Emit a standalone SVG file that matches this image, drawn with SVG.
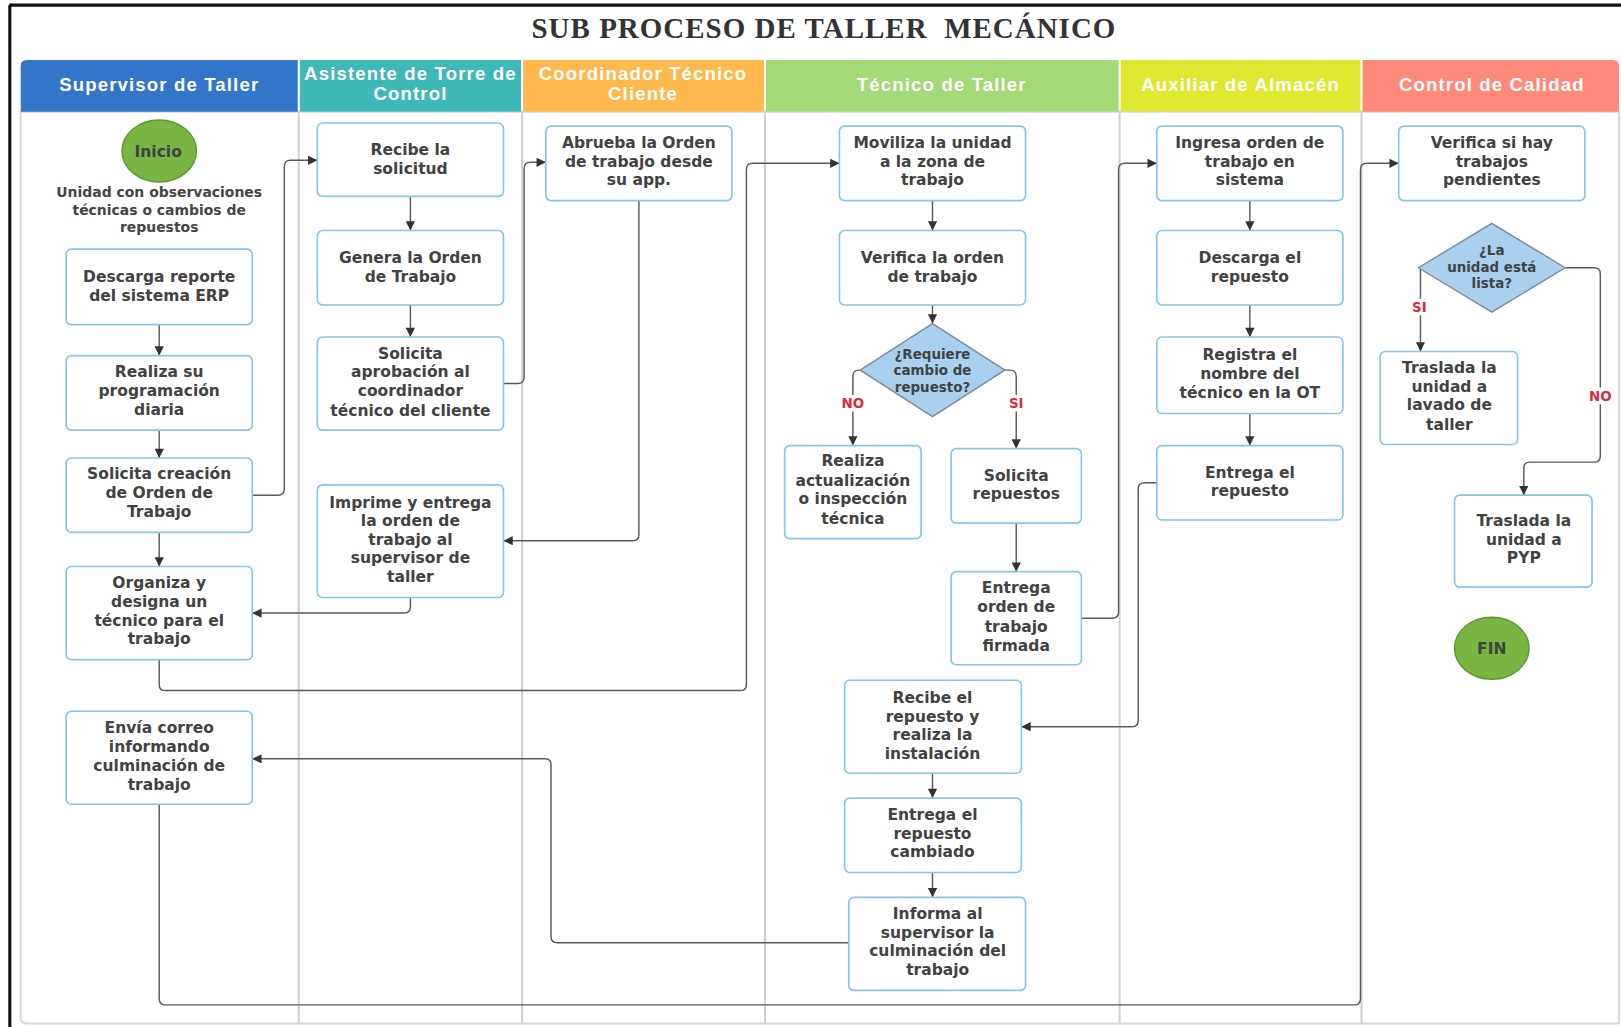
<svg xmlns="http://www.w3.org/2000/svg" width="1621" height="1027" viewBox="0 0 1621 1027">
  <style>
    .box{fill:#ffffff;stroke:#86c5e8;stroke-width:1.6}
    .t{font-family:"DejaVu Sans",Verdana,sans-serif;font-weight:bold;font-size:15px;fill:#424242;text-anchor:middle}
    .dt{font-family:"DejaVu Sans",Verdana,sans-serif;font-weight:bold;font-size:13px;fill:#424242;text-anchor:middle}
    .hd{font-family:"Liberation Sans",Arial,sans-serif;font-weight:bold;font-size:18px;letter-spacing:1.1px;fill:#ffffff;text-anchor:middle}
    .cap{font-family:"DejaVu Sans",Verdana,sans-serif;font-weight:bold;font-size:13.5px;fill:#454545;text-anchor:middle}
    .lbl{font-family:"DejaVu Sans",Verdana,sans-serif;font-weight:bold;font-size:13px;fill:#dc2a3c;text-anchor:middle}
    .dia{fill:#a9d0ee;stroke:#7a8a99;stroke-width:1.4}
    .term{fill:#79b543;stroke:#5d9a32;stroke-width:1.4}
    .lane{stroke:#d0d0d0;stroke-width:2}
    .conn path{fill:none;stroke:#5a5a5a;stroke-width:1.4}
    .conn path.arr{marker-end:url(#ah)}
  </style>
  <defs>
    <marker id="ah" viewBox="0 0 10 10" refX="10" refY="5" markerWidth="11" markerHeight="9" markerUnits="userSpaceOnUse" orient="auto">
      <path d="M0,0 L10,5 L0,10 z" fill="#333"/>
    </marker>
  </defs>
  <rect width="1621" height="1027" fill="#ffffff"/>
  <g transform="scale(1.0338)">
    <!-- outer frame -->
    <line x1="9" y1="5" x2="1568" y2="5" stroke="#111" stroke-width="3"/>
    <line x1="9.5" y1="5" x2="9.5" y2="995" stroke="#111" stroke-width="3"/>

    <!-- title -->
    <text x="797" y="37" font-family="'Liberation Serif','Times New Roman',serif" font-size="28" font-weight="bold" letter-spacing="1" fill="#333" text-anchor="middle">SUB PROCESO DE TALLER&#160; MECÁNICO</text>

    <!-- pool body -->
    <path d="M20,108 H1566 V990 H26 Q20,990 20,984 Z" fill="#ffffff" stroke="#d8d8d8" stroke-width="2"/>
    <line class="lane" x1="289" y1="108" x2="289" y2="990"/>
    <line class="lane" x1="505" y1="108" x2="505" y2="990"/>
    <line class="lane" x1="740" y1="108" x2="740" y2="990"/>
    <line class="lane" x1="1083" y1="108" x2="1083" y2="990"/>
    <line class="lane" x1="1317" y1="108" x2="1317" y2="990"/>

    <!-- lane headers -->
    <g id="lane-supervisor">
      <path d="M20,108 V64 Q20,58 26,58 H288 V108 Z" fill="#3375c8"/>
      <text class="hd" x="154" y="88">Supervisor de Taller</text>
    </g>
    <g id="lane-asistente">
      <rect x="290" y="58" width="214" height="50" fill="#3fb8b8"/>
      <text class="hd" x="397" y="77">Asistente de Torre de</text>
      <text class="hd" x="397" y="97">Control</text>
    </g>
    <g id="lane-coordinador">
      <rect x="506" y="58" width="233" height="50" fill="#ffb84d"/>
      <text class="hd" x="622" y="77">Coordinador Técnico</text>
      <text class="hd" x="622" y="97">Cliente</text>
    </g>
    <g id="lane-tecnico">
      <rect x="741" y="58" width="341" height="50" fill="#a3d977"/>
      <text class="hd" x="911" y="88">Técnico de Taller</text>
    </g>
    <g id="lane-auxiliar">
      <rect x="1084" y="58" width="232" height="50" fill="#dfe830"/>
      <text class="hd" x="1200" y="88">Auxiliar de Almacén</text>
    </g>
    <g id="lane-calidad">
      <path d="M1318,58 H1560 Q1566,58 1566,64 V108 H1318 Z" fill="#ff8a7a"/>
      <text class="hd" x="1443" y="88">Control de Calidad</text>
    </g>

    <!-- connectors -->
    <g id="connectors" class="conn">
      <path class="arr" d="M154,314 V344"/>
      <path class="arr" d="M154,416 V443"/>
      <path class="arr" d="M154,515 V548"/>
      <path class="arr" d="M244,479 H269 Q275,479 275,473 V161 Q275,155 281,155 H307"/>
      <path class="arr" d="M397,190 V223"/>
      <path class="arr" d="M397,295 V326"/>
      <path class="arr" d="M487,371 H501 Q507,371 507,365 V163 Q507,157 513,157 H528"/>
      <path class="arr" d="M618,194 V517 Q618,523 612,523 H487"/>
      <path class="arr" d="M397,578 V587 Q397,593 391,593 H244"/>
      <path class="arr" d="M154,638 V662 Q154,668 160,668 H716 Q722,668 722,662 V164 Q722,158 728,158 H812"/>
      <path class="arr" d="M902,194 V223"/>
      <path class="arr" d="M902,295 V313"/>
      <path class="arr" d="M832,358 H831 Q825,358 825,364 V431"/>
      <path class="arr" d="M972,358 H977 Q983,358 983,364 V434"/>
      <path class="arr" d="M983,506 V553"/>
      <path class="arr" d="M1046,598 H1076 Q1082,598 1082,592 V164 Q1082,158 1088,158 H1119"/>
      <path class="arr" d="M1209,194 V223"/>
      <path class="arr" d="M1209,295 V326"/>
      <path class="arr" d="M1209,400 V431"/>
      <path class="arr" d="M1119,467 H1107 Q1101,467 1101,473 V697 Q1101,703 1095,703 H988"/>
      <path class="arr" d="M902,748 V772"/>
      <path class="arr" d="M902,844 V868"/>
      <path class="arr" d="M821,912 H539 Q533,912 533,906 V740 Q533,734 527,734 H244"/>
      <path class="arr" d="M154,778 V966 Q154,972 160,972 H1310 Q1316,972 1316,966 V164 Q1316,158 1322,158 H1353"/>
      <path class="arr" d="M1374,259 V340"/>
      <path class="arr" d="M1514,259 H1542 Q1548,259 1548,265 V441 Q1548,447 1542,447 H1480 Q1474,447 1474,453 V479"/>
      <!-- branch labels -->
      <rect x="811" y="382" width="28" height="16" fill="#ffffff"/>
      <text class="lbl" x="825" y="395">NO</text>
      <rect x="973" y="382" width="20" height="16" fill="#ffffff"/>
      <text class="lbl" x="983" y="395">SI</text>
      <rect x="1363" y="289" width="20" height="16" fill="#ffffff"/>
      <text class="lbl" x="1373" y="302">SI</text>
      <rect x="1534" y="375" width="28" height="16" fill="#ffffff"/>
      <text class="lbl" x="1548" y="388">NO</text>
    </g>

    <!-- Supervisor de Taller -->
    <g id="inicio">
      <ellipse class="term" cx="154" cy="146" rx="36" ry="30"/>
      <text class="t" x="153" y="152" font-size="17.5">Inicio</text>
      <text class="cap" x="154" y="191">Unidad con observaciones</text>
      <text class="cap" x="154" y="208">técnicas o cambios de</text>
      <text class="cap" x="154" y="224">repuestos</text>
    </g>
    <g id="descarga-reporte">
      <rect class="box" x="64" y="241" width="180" height="73" rx="5"/>
      <text class="t" x="154" y="273">Descarga reporte</text>
      <text class="t" x="154" y="291">del sistema ERP</text>
    </g>
    <g id="programacion">
      <rect class="box" x="64" y="344" width="180" height="72" rx="5"/>
      <text class="t" x="154" y="365">Realiza su</text>
      <text class="t" x="154" y="383">programación</text>
      <text class="t" x="154" y="401">diaria</text>
    </g>
    <g id="solicita-ot">
      <rect class="box" x="64" y="443" width="180" height="72" rx="5"/>
      <text class="t" x="154" y="463">Solicita creación</text>
      <text class="t" x="154" y="482">de Orden de</text>
      <text class="t" x="154" y="500">Trabajo</text>
    </g>
    <g id="organiza">
      <rect class="box" x="64" y="548" width="180" height="90" rx="5"/>
      <text class="t" x="154" y="569">Organiza y</text>
      <text class="t" x="154" y="587">designa un</text>
      <text class="t" x="154" y="606">técnico para el</text>
      <text class="t" x="154" y="623">trabajo</text>
    </g>
    <g id="envia-correo">
      <rect class="box" x="64" y="688" width="180" height="90" rx="5"/>
      <text class="t" x="154" y="709">Envía correo</text>
      <text class="t" x="154" y="727">informando</text>
      <text class="t" x="154" y="746">culminación de</text>
      <text class="t" x="154" y="764">trabajo</text>
    </g>

    <!-- Asistente de Torre de Control -->
    <g id="recibe-solicitud">
      <rect class="box" x="307" y="119" width="180" height="71" rx="5"/>
      <text class="t" x="397" y="150">Recibe la</text>
      <text class="t" x="397" y="168">solicitud</text>
    </g>
    <g id="genera-ot">
      <rect class="box" x="307" y="223" width="180" height="72" rx="5"/>
      <text class="t" x="397" y="254">Genera la Orden</text>
      <text class="t" x="397" y="273">de Trabajo</text>
    </g>
    <g id="solicita-aprobacion">
      <rect class="box" x="307" y="326" width="180" height="90" rx="5"/>
      <text class="t" x="397" y="347">Solicita</text>
      <text class="t" x="397" y="365">aprobación al</text>
      <text class="t" x="397" y="383">coordinador</text>
      <text class="t" x="397" y="402">técnico del cliente</text>
    </g>
    <g id="imprime-ot">
      <rect class="box" x="307" y="469" width="180" height="109" rx="5"/>
      <text class="t" x="397" y="491">Imprime y entrega</text>
      <text class="t" x="397" y="509">la orden de</text>
      <text class="t" x="397" y="527">trabajo al</text>
      <text class="t" x="397" y="545">supervisor de</text>
      <text class="t" x="397" y="563">taller</text>
    </g>

    <!-- Coordinador Técnico Cliente -->
    <g id="aprueba-ot">
      <rect class="box" x="528" y="122" width="180" height="72" rx="5"/>
      <text class="t" x="618" y="143">Abrueba la Orden</text>
      <text class="t" x="618" y="162">de trabajo desde</text>
      <text class="t" x="618" y="179">su app.</text>
    </g>

    <!-- Técnico de Taller -->
    <g id="moviliza">
      <rect class="box" x="812" y="122" width="180" height="72" rx="5"/>
      <text class="t" x="902" y="143">Moviliza la unidad</text>
      <text class="t" x="902" y="162">a la zona de</text>
      <text class="t" x="902" y="179">trabajo</text>
    </g>
    <g id="verifica-ot">
      <rect class="box" x="812" y="223" width="180" height="72" rx="5"/>
      <text class="t" x="902" y="254">Verifica la orden</text>
      <text class="t" x="902" y="273">de trabajo</text>
    </g>
    <g id="requiere-repuesto">
      <path class="dia" d="M902,313 L972,358 L902,403 L832,358 Z" stroke-linejoin="round"/>
      <text class="dt" x="902" y="347">¿Requiere</text>
      <text class="dt" x="902" y="363">cambio de</text>
      <text class="dt" x="902" y="379">repuesto?</text>
    </g>
    <g id="actualizacion">
      <rect class="box" x="759" y="431" width="132" height="90" rx="5"/>
      <text class="t" x="825" y="451">Realiza</text>
      <text class="t" x="825" y="470">actualización</text>
      <text class="t" x="825" y="488">o inspección</text>
      <text class="t" x="825" y="507">técnica</text>
    </g>
    <g id="solicita-repuestos">
      <rect class="box" x="920" y="434" width="126" height="72" rx="5"/>
      <text class="t" x="983" y="465">Solicita</text>
      <text class="t" x="983" y="483">repuestos</text>
    </g>
    <g id="entrega-ot-firmada">
      <rect class="box" x="920" y="553" width="126" height="90" rx="5"/>
      <text class="t" x="983" y="574">Entrega</text>
      <text class="t" x="983" y="592">orden de</text>
      <text class="t" x="983" y="611">trabajo</text>
      <text class="t" x="983" y="630">firmada</text>
    </g>
    <g id="instalacion">
      <rect class="box" x="817" y="658" width="171" height="90" rx="5"/>
      <text class="t" x="902" y="680">Recibe el</text>
      <text class="t" x="902" y="698">repuesto y</text>
      <text class="t" x="902" y="716">realiza la</text>
      <text class="t" x="902" y="734">instalación</text>
    </g>
    <g id="repuesto-cambiado">
      <rect class="box" x="817" y="772" width="171" height="72" rx="5"/>
      <text class="t" x="902" y="793">Entrega el</text>
      <text class="t" x="902" y="812">repuesto</text>
      <text class="t" x="902" y="829">cambiado</text>
    </g>
    <g id="informa-supervisor">
      <rect class="box" x="821" y="868" width="171" height="90" rx="5"/>
      <text class="t" x="907" y="889">Informa al</text>
      <text class="t" x="907" y="907">supervisor la</text>
      <text class="t" x="907" y="925">culminación del</text>
      <text class="t" x="907" y="943">trabajo</text>
    </g>

    <!-- Auxiliar de Almacén -->
    <g id="ingresa-ot">
      <rect class="box" x="1119" y="122" width="180" height="72" rx="5"/>
      <text class="t" x="1209" y="143">Ingresa orden de</text>
      <text class="t" x="1209" y="162">trabajo en</text>
      <text class="t" x="1209" y="179">sistema</text>
    </g>
    <g id="descarga-repuesto">
      <rect class="box" x="1119" y="223" width="180" height="72" rx="5"/>
      <text class="t" x="1209" y="254">Descarga el</text>
      <text class="t" x="1209" y="273">repuesto</text>
    </g>
    <g id="registra-tecnico">
      <rect class="box" x="1119" y="326" width="180" height="74" rx="5"/>
      <text class="t" x="1209" y="348">Registra el</text>
      <text class="t" x="1209" y="367">nombre del</text>
      <text class="t" x="1209" y="385">técnico en la OT</text>
    </g>
    <g id="entrega-repuesto">
      <rect class="box" x="1119" y="431" width="180" height="72" rx="5"/>
      <text class="t" x="1209" y="462">Entrega el</text>
      <text class="t" x="1209" y="480">repuesto</text>
    </g>

    <!-- Control de Calidad -->
    <g id="verifica-pendientes">
      <rect class="box" x="1353" y="122" width="180" height="72" rx="5"/>
      <text class="t" x="1443" y="143">Verifica si hay</text>
      <text class="t" x="1443" y="162">trabajos</text>
      <text class="t" x="1443" y="179">pendientes</text>
    </g>
    <g id="unidad-lista">
      <path class="dia" d="M1443,216 L1514,259 L1443,302 L1372,259 Z" stroke-linejoin="round"/>
      <text class="dt" x="1443" y="247" font-size="13.3">¿La</text>
      <text class="dt" x="1443" y="263" font-size="13.3">unidad está</text>
      <text class="dt" x="1443" y="279" font-size="13.3">lista?</text>
    </g>
    <g id="lavado">
      <rect class="box" x="1335" y="340" width="133" height="90" rx="5"/>
      <text class="t" x="1402" y="361">Traslada la</text>
      <text class="t" x="1402" y="379">unidad a</text>
      <text class="t" x="1402" y="397">lavado de</text>
      <text class="t" x="1402" y="416">taller</text>
    </g>
    <g id="pyp">
      <rect class="box" x="1407" y="479" width="133" height="89" rx="5"/>
      <text class="t" x="1474" y="509">Traslada la</text>
      <text class="t" x="1474" y="527">unidad a</text>
      <text class="t" x="1474" y="545">PYP</text>
    </g>
    <g id="fin">
      <ellipse class="term" cx="1443" cy="627" rx="36" ry="30"/>
      <text class="t" x="1443" y="633" font-size="18">FIN</text>
    </g>
  </g>
</svg>
